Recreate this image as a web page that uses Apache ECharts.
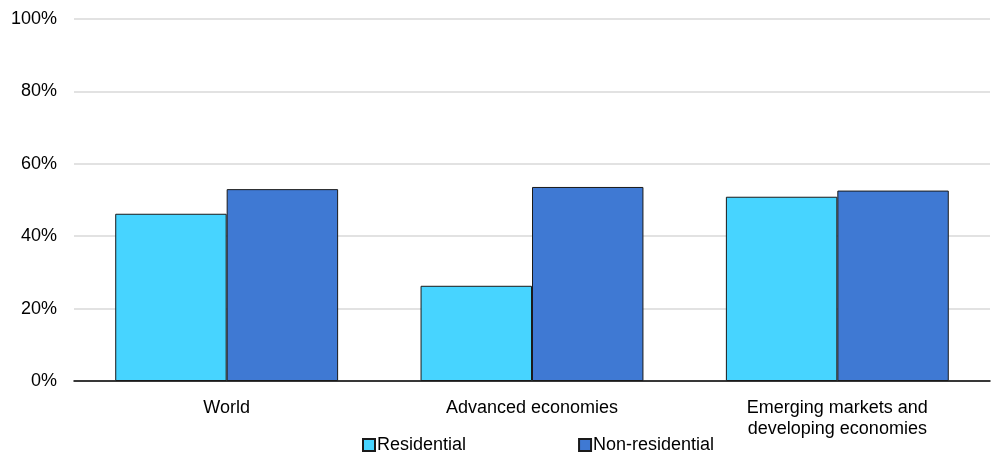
<!DOCTYPE html>
<html>
<head>
<meta charset="utf-8">
<script src="https://cdn.jsdelivr.net/npm/echarts@6/dist/echarts.min.js"></script>
<style>
  html, body { margin: 0; padding: 0; background: #fff; }
  #chart { width: 994px; height: 454px; }
</style>
</head>
<body>
<div id="chart"></div>
<script>
// Share of buildings by region and segment (percent)
const categories = ['World', 'Advanced economies', 'Emerging markets and\ndeveloping economies'];
const residential = [46.2, 26.3, 50.9];
const nonResidential = [53.0, 53.6, 52.6];
const seriesNames = ['Residential', 'Non-residential'];

const FONT = 'Liberation Sans, Arial, sans-serif';

const chart = echarts.init(document.getElementById('chart'), null, { renderer: 'canvas' });
chart.setOption({
  animation: false,
  textStyle: { fontFamily: FONT },
  grid: { left: 74, right: 4, top: 19, bottom: 73, containLabel: false },
  legend: {
    data: seriesNames,
    top: 436,
    left: 362,
    padding: 0,
    itemWidth: 12,
    itemHeight: 12,
    itemGap: 112,
    icon: 'rect',
    textStyle: { fontFamily: FONT, fontSize: 18, color: '#000', padding: [0, 0, 0, -3] }
  },
  xAxis: {
    type: 'category',
    data: categories,
    axisLine: { lineStyle: { color: '#000', width: 1.5 } },
    axisTick: { show: false },
    axisLabel: { fontFamily: FONT, fontSize: 18, color: '#000', margin: 17, lineHeight: 21 }
  },
  yAxis: {
    type: 'value',
    min: 0,
    max: 100,
    interval: 20,
    axisLine: { show: false },
    axisTick: { show: false },
    splitLine: { lineStyle: { color: '#d9d9d9', width: 1.5 } },
    axisLabel: { fontFamily: FONT, fontSize: 18, color: '#000', margin: 17, formatter: '{value}%' }
  },
  series: [
    {
      name: seriesNames[0],
      type: 'bar',
      data: residential,
      barGap: '0%',
      barCategoryGap: '27%',
      itemStyle: { color: '#47d4ff', borderColor: '#1a1a1a', borderWidth: 1 }
    },
    {
      name: seriesNames[1],
      type: 'bar',
      data: nonResidential,
      itemStyle: { color: '#3f79d3', borderColor: '#1a1a1a', borderWidth: 1 }
    }
  ]
});
</script>
</body>
</html>
